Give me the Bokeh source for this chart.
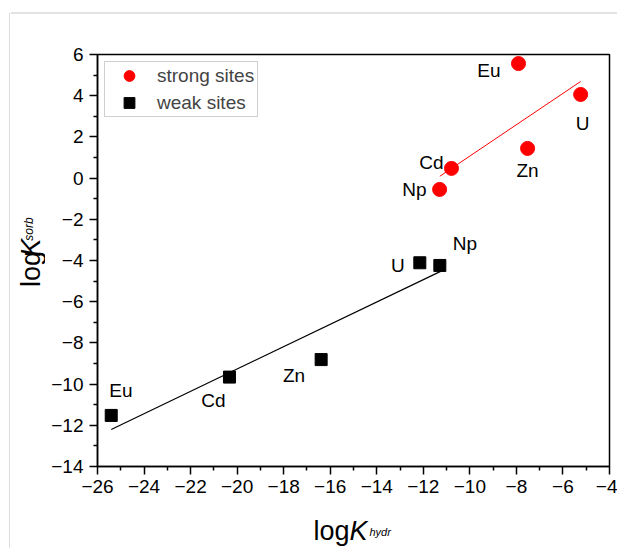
import math
from bokeh.plotting import figure
from bokeh.layouts import column, row
from bokeh.models import ColumnDataSource, Range1d, FixedTicker, Legend, LegendItem
from bokeh.embed import file_html
from bokeh.resources import INLINE
from bokeh.core.properties import value

# ---------------- data ----------------
strong_elements = ["Eu", "U", "Zn", "Cd", "Np"]
strong_hydr = [-7.91, -5.24, -7.52, -10.79, -11.30]
strong_sorb = [5.56, 4.06, 1.44, 0.47, -0.55]

weak_elements = ["Eu", "Cd", "Zn", "U", "Np"]
weak_hydr = [-25.41, -20.33, -16.39, -12.15, -11.29]
weak_sorb = [-11.52, -9.66, -8.81, -4.11, -4.24]

strong_fit_x = [-11.29, -5.24]
strong_fit_y = [0.09, 4.69]
weak_fit_x = [-25.41, -11.19]
weak_fit_y = [-12.20, -4.49]

x_ticks = [-26, -24, -22, -20, -18, -16, -14, -12, -10, -8, -6, -4]
y_ticks = [-14, -12, -10, -8, -6, -4, -2, 0, 2, 4, 6]

legend_labels = ["strong sites", "weak sites"]

# ---------------- label styles (offsets in pixels) ----------------
strong_align = ["right", "center", "center", "right", "right"]
strong_dx = [-18, 2, 0, -8, -13]
strong_dy = [7, 29, 22, -6, 0]
weak_align = ["left", "right", "right", "right", "left"]
weak_dx = [-2, -4, -16, -15, 13]
weak_dy = [-25, 23, 16, 3, -22]

FONT = "Liberation Sans"
W, H = 617, 548
LINE_W = 10           # strip holding the grey left page line
TOP_H = 20            # strip above the plot
YT_W = 35             # strip left of the plot (y title)
FW, FH = 512, 412     # frame size
BL, BR, BT, BB = 52, 8, 34, 45
MID_H = BT + FH + BB
XT_H = H - TOP_H - MID_H
GREY = "#c8c8c8"


def blank(width, height):
    f = figure(width=width, height=height, x_range=Range1d(0, width), y_range=Range1d(height, 0),
               x_axis_type=None, y_axis_type=None, output_backend="svg", toolbar_location=None,
               min_border=0, min_border_left=0, min_border_right=0, min_border_top=0,
               min_border_bottom=0)
    f.grid.visible = False
    f.outline_line_color = None
    f.background_fill_color = "white"
    f.border_fill_color = "white"
    return f


# ---------------- main plot ----------------
p = figure(frame_width=FW, frame_height=FH,
           min_border_left=BL, min_border_right=BR, min_border_top=BT, min_border_bottom=BB,
           x_range=Range1d(x_ticks[0], x_ticks[-1]), y_range=Range1d(y_ticks[0], y_ticks[-1]),
           output_backend="svg", toolbar_location=None)
p.grid.visible = False
p.outline_line_color = "black"
p.outline_line_width = 1.5
p.background_fill_color = "white"
p.border_fill_color = "white"

for ax, ticks in ((p.xaxis, x_ticks), (p.yaxis, y_ticks)):
    ax.ticker = FixedTicker(ticks=ticks, minor_ticks=[t + 1 for t in ticks[:-1]])
    ax.major_tick_out = 8
    ax.major_tick_in = 0
    ax.minor_tick_out = 4
    ax.minor_tick_in = 0
    ax.axis_line_width = 1.5
    ax.major_tick_line_width = 1.5
    ax.minor_tick_line_width = 1.5
    ax.major_label_text_font = FONT
    ax.major_label_text_font_size = "19px"
    ax.major_label_text_color = "black"
    ax.axis_line_color = "black"
    ax.major_tick_line_color = "black"
    ax.minor_tick_line_color = "black"
p.xaxis.major_label_standoff = 5
p.yaxis.major_label_standoff = 6

p.line(strong_fit_x, strong_fit_y, line_color="#ff0000", line_width=1)
p.line(weak_fit_x, weak_fit_y, line_color="black", line_width=1.2)

src_s = ColumnDataSource(dict(x=strong_hydr, y=strong_sorb, t=strong_elements,
                              a=strong_align, dx=strong_dx, dy=strong_dy))
src_w = ColumnDataSource(dict(x=weak_hydr, y=weak_sorb, t=weak_elements,
                              a=weak_align, dx=weak_dx, dy=weak_dy))

r_s = p.scatter("x", "y", source=src_s, marker="circle", size=14,
                fill_color="#ff0000", line_color="#ff0000")
r_w = p.scatter("x", "y", source=src_w, marker="square", size=12,
                fill_color="black", line_color="black")

for src in (src_s, src_w):
    p.text("x", "y", text="t", source=src, text_align="a", x_offset="dx", y_offset="dy",
           text_baseline="middle", text_font=value(FONT), text_font_size="19px",
           text_color="black")

legend = Legend(items=[LegendItem(label=legend_labels[0], renderers=[r_s]),
                       LegendItem(label=legend_labels[1], renderers=[r_w])],
                location="top_left", margin=7,
                padding=dict(left=0, right=3, top=0, bottom=0), spacing=0,
                glyph_height=27, glyph_width=48, label_height=20, label_standoff=4,
                label_text_font=FONT, label_text_font_size="19px",
                border_line_color="#a0a0a0", border_line_width=1)
p.add_layout(legend)

# ---------------- strips: page frame lines and axis titles ----------------
GY = 12.5  # grey top line
lf = blank(LINE_W, H)
lf.segment(x0=[9.5, 9.5], y0=[GY, GY], x1=[9.5, LINE_W], y1=[H, GY],
           line_color=GREY, line_width=1.2)

top = blank(W - LINE_W, TOP_H)
top.segment(x0=[0], y0=[GY], x1=[W - LINE_W], y1=[GY], line_color=GREY, line_width=1.2)

kw = dict(text_font=value(FONT), text_color="black", text_align="left", text_baseline="middle")
ox = LINE_W

yt = blank(YT_W, MID_H)
ang = math.pi / 2
ly = 297 - TOP_H
yt.text(x=[30.5 - ox], y=[ly], text=["log"], angle=ang, text_font_size="27px", **kw)
yt.text(x=[30.5 - ox], y=[ly - 36], text=["K"], angle=ang, text_font_size="27px",
        text_font_style="italic", **kw)
yt.text(x=[28.5 - ox], y=[ly - 55], text=["sorb"], angle=ang, text_font_size="12px",
        text_font_style="italic", **kw)

xt = blank(W - LINE_W, XT_H)
oy = TOP_H + MID_H
xt.text(x=[313 - ox], y=[530.5 - oy], text=["log"], text_font_size="27px", **kw)
xt.text(x=[349 - ox], y=[530.5 - oy], text=["K"], text_font_size="27px",
        text_font_style="italic", **kw)
xt.text(x=[369 - ox], y=[531.5 - oy], text=["hydr"], text_font_size="11px",
        text_font_style="italic", **kw)

layout = row(lf, column(top, row(yt, p), xt))
open("out.html", "w").write(file_html(layout, INLINE))
